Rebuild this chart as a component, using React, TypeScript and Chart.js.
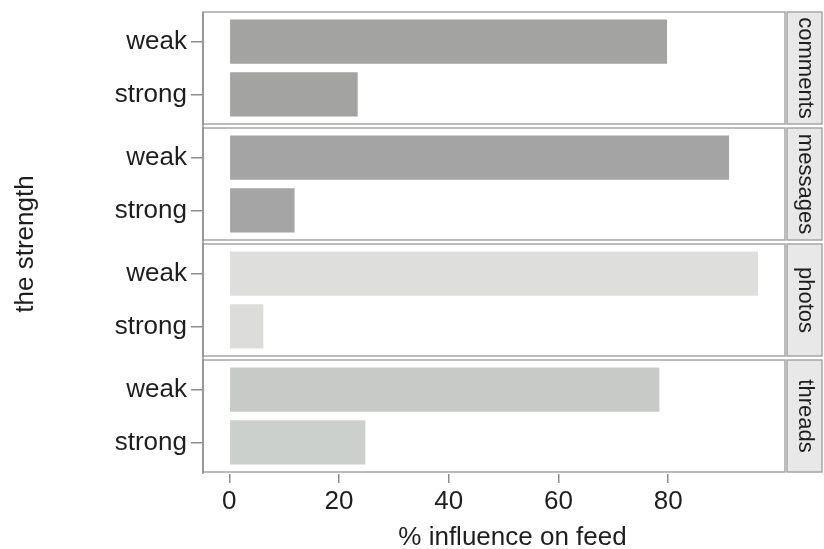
import { useEffect, useRef } from 'react';
import { Chart, registerables } from 'chart.js';

Chart.register(...registerables);

const facets = ['comments', 'messages', 'photos', 'threads'];
const strengths = ['weak', 'strong'];
const weakValues = [79.8, 91.1, 96.4, 78.4];
const strongValues = [23.4, 11.9, 6.2, 24.8];
const xTicks = [0, 20, 40, 60, 80];
const xTitle = '% influence on feed';
const yTitle = 'the strength';

const FONT = '"Liberation Sans", Arial, Helvetica, sans-serif';
const TEXT = '#1e1e1e';
const LINE = '#a6a6a6';
const barColors = [
  ['#a3a3a2', '#a3a3a2'],
  ['#a4a4a4', '#a5a5a5'],
  ['#dedfdc', '#dcdddb'],
  ['#c8cac7', '#ccd0cc'],
];

const panelPlugin = {
  id: 'facetPanels',
  afterDraw(chart: any) {
    const { ctx, chartArea } = chart;
    ctx.save();
    facets.forEach((f, i) => {
      const s = chart.scales['y' + i];
      const top = s.top + 2;
      const bottom = s.bottom - 2;
      ctx.strokeStyle = LINE;
      ctx.lineWidth = 1.5;
      ctx.strokeRect(chartArea.left, top, chartArea.right - chartArea.left, bottom - top);
      const sx = chartArea.right + 2;
      const sw = 35;
      ctx.fillStyle = '#e8e8e8';
      ctx.fillRect(sx, top, sw, bottom - top);
      ctx.strokeRect(sx, top, sw, bottom - top);
      ctx.save();
      ctx.translate(sx + sw / 2 + 1, (top + bottom) / 2);
      ctx.rotate(Math.PI / 2);
      ctx.fillStyle = TEXT;
      ctx.font = `22px ${FONT}`;
      ctx.textAlign = 'center';
      ctx.textBaseline = 'middle';
      ctx.fillText(f, 0, 0);
      ctx.restore();
    });
    // left axis line
    ctx.strokeStyle = '#8c8c8c';
    ctx.lineWidth = 1.5;
    ctx.beginPath();
    ctx.moveTo(chartArea.left, chartArea.top + 2);
    ctx.lineTo(chartArea.left, chartArea.bottom);
    ctx.stroke();
    // titles
    ctx.fillStyle = TEXT;
    ctx.font = `26px ${FONT}`;
    ctx.textAlign = 'center';
    ctx.textBaseline = 'alphabetic';
    ctx.fillText(xTitle, (chartArea.left + chartArea.right + 37) / 2, 545);
    ctx.save();
    ctx.translate(33, (chartArea.top + chartArea.bottom) / 2 + 2);
    ctx.rotate(-Math.PI / 2);
    ctx.fillText(yTitle, 0, 0);
    ctx.restore();
    ctx.restore();
  },
};

export default function App() {
  const ref = useRef<HTMLCanvasElement>(null);
  useEffect(() => {
    document.body.style.margin = '0';
    if (!ref.current) return;
    const datasets = facets.map((f, i) => ({
      label: f,
      yAxisID: 'y' + i,
      data: strengths.map((_, j) => ({ x: j === 0 ? weakValues[i] : strongValues[i], y: j + 1 })),
      backgroundColor: barColors[i],
      borderWidth: 0,
      grouped: false,
      barPercentage: 0.84,
      categoryPercentage: 1,
    }));
    const scales: any = {
      x: {
        type: 'linear',
        min: -4.8,
        max: 101.3,
        afterBuildTicks: (a: any) => {
          a.ticks = xTicks.map((v) => ({ value: v }));
        },
        ticks: { font: { family: FONT, size: 26 }, color: TEXT, padding: 3, maxRotation: 0 },
        grid: { drawOnChartArea: false, tickLength: 9, color: '#8c8c8c', lineWidth: 1.5 },
        border: { display: false },
        afterFit: (a: any) => {
          a.height = 75;
          a.paddingLeft = 0;
          a.paddingRight = 0;
        },
      },
    };
    // stacked axes are placed bottom-to-top in definition order, so define from the last facet
    for (let i = facets.length - 1; i >= 0; i--) {
      scales['y' + i] = {
        type: 'linear',
        position: 'left',
        stack: 'panels',
        stackWeight: 1,
        offset: false,
        min: 0.4,
        max: 2.6,
        reverse: true,
        afterBuildTicks: (a: any) => {
          a.ticks = strengths.map((__, j) => ({ value: j + 1 }));
        },
        ticks: {
          callback: (v: any) => strengths[Number(v) - 1] ?? '',
          font: { family: FONT, size: 26 },
          color: TEXT,
          padding: 4,
        },
        grid: { offset: false, drawOnChartArea: false, tickLength: 12, color: '#8c8c8c', lineWidth: 1.5 },
        border: { display: false },
        afterFit: (a: any) => {
          a.width = 203;
          a.paddingTop = 0;
          a.paddingBottom = 0;
        },
      };
    }
    const chart = new Chart(ref.current, {
      type: 'bar',
      data: { datasets },
      options: {
        indexAxis: 'y',
        animation: false,
        responsive: true,
        maintainAspectRatio: false,
        layout: { padding: { top: 10, right: 39, bottom: 0, left: 0 } },
        plugins: { legend: { display: false }, tooltip: { enabled: false } },
        scales,
      },
      plugins: [panelPlugin],
    } as any);
    return () => chart.destroy();
  }, []);
  return (
    <div style={{ position: 'relative', width: 824, height: 549, background: '#fff' }}>
      <canvas ref={ref} />
    </div>
  );
}
